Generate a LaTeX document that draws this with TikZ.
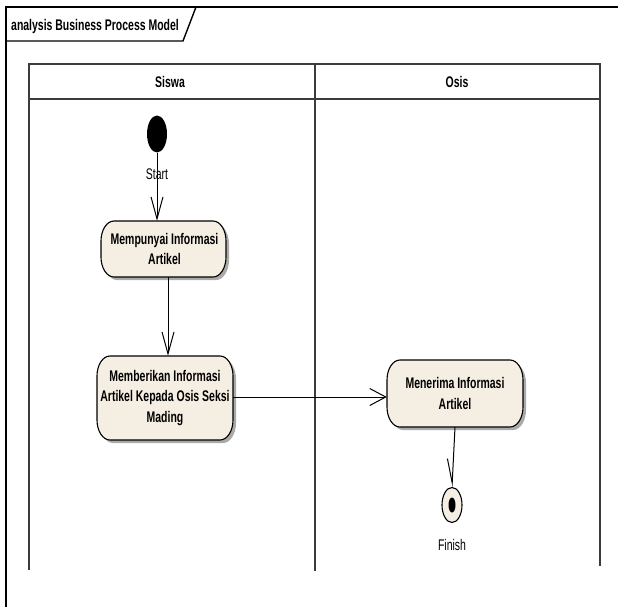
\documentclass[tikz,border=0pt]{standalone}
\usepackage{fontspec}
\setmainfont[FakeStretch=0.68]{Liberation Sans}
\usetikzlibrary{shapes.geometric,arrows.meta}
\definecolor{cream}{RGB}{245,238,226}
\definecolor{shade}{RGB}{170,170,170}
\definecolor{laneline}{RGB}{60,60,60}
\tikzset{
  % rounded activity outline with elliptic ends: centre x, centre y, width, height
  actpath/.style n args={4}{insert path={
    ({#1-#3/2+13},{#2-#4/2}) -- ({#1+#3/2-13},{#2-#4/2})
    arc[start angle=90,end angle=0,x radius=13pt,y radius=20pt]
    -- ({#1+#3/2},{#2+#4/2-20})
    arc[start angle=0,end angle=-90,x radius=13pt,y radius=20pt]
    -- ({#1-#3/2+13},{#2+#4/2})
    arc[start angle=270,end angle=180,x radius=13pt,y radius=20pt]
    -- ({#1-#3/2},{#2-#4/2+20})
    arc[start angle=180,end angle=90,x radius=13pt,y radius=20pt]
    -- cycle}},
  actshadow/.style={fill=shade},
  actbody/.style={fill=cream,draw=black,line width=1.1pt},
  acttext/.style={inner sep=0pt,align=center,
    font=\fontsize{15.4}{20.5}\selectfont\bfseries},
  lane/.style={draw=laneline,line width=1.5pt},
  frameline/.style={draw=black,line width=1.4pt},
  labeltext/.style={inner sep=0pt,font=\fontsize{15.4}{18}\selectfont},
  headtext/.style={inner sep=0pt,font=\fontsize{15.4}{18}\selectfont\bfseries},
  flow/.style={draw=black,line width=1pt},
  vtip/.style={-{Straight Barb[length=22pt,width=12pt,line width=1pt]}},
  htip/.style={-{Straight Barb[length=16pt,width=17pt,line width=1pt]}},
}
\begin{document}
\begin{tikzpicture}[x=1pt,y=-1pt]
\useasboundingbox[fill=white] (0,0) rectangle (618,607);

% diagram frame with its name tab
\draw[frameline] (618,7) -- (6,7) -- (6,607);
\draw[frameline] (6,41) -- (183,41) -- (196,7);
\node[headtext,anchor=base west] (title) at (11,30.5) {analysis Business Process Model};

% swimlanes
\draw[lane] (29,570) -- (29,64) -- (600,64) -- (600,566);
\draw[lane] (29,99) -- (600,99);
\draw[lane] (315,64) -- (315,571);
\node[headtext] (siswa) at (170,82) {Siswa};
\node[headtext] (osis) at (457,82) {Osis};

% activities
\fill[actshadow,shift={(3,3)},actpath={163.5}{249}{125}{56}];
\path[actbody,actpath={163.5}{249}{125}{56}];
\node[acttext,minimum width=125pt,minimum height=56pt] (b1) at (164.5,249)
  {Mempunyai Informasi\\Artikel};

\fill[actshadow,shift={(3,3)},actpath={165}{398}{136}{84}];
\path[actbody,actpath={165}{398}{136}{84}];
\node[acttext,minimum width=136pt,minimum height=84pt] (b2) at (165,398)
  {Memberikan Informasi\\Artikel Kepada Osis Seksi\\Mading};

\fill[actshadow,shift={(3,3)},actpath={455}{393.5}{136}{67}];
\path[actbody,actpath={455}{393.5}{136}{67}];
\node[acttext,minimum width=136pt,minimum height=67pt] (b3) at (455,393.5)
  {Menerima Informasi\\Artikel};

% initial and final nodes
\node[ellipse,fill=black,minimum width=20pt,minimum height=37pt,inner sep=0pt] (start) at (157,134) {};
\node[labeltext,anchor=base] (startlabel) at (157,179) {Start};

\node[ellipse,draw=black,fill=cream,line width=1.1pt,minimum width=20pt,minimum height=35pt,inner sep=0pt] (finish) at (452,505) {};
\node[ellipse,fill=black,minimum width=7pt,minimum height=15pt,inner sep=0pt] (finishdot) at (finish.center) {};
\node[labeltext,anchor=base] (finishlabel) at (452,550) {Finish};

% control flows
\draw[flow,vtip] (start.south) -- (start.south |- b1.north);
\draw[flow,vtip] ([xshift=3.5pt]b1.south) -- ([xshift=3.5pt]b1.south |- b2.north);
\draw[flow,htip] (b2.east |- 0,397) -- (b3.west |- 0,397);
\draw[flow,-{Straight Barb[right,length=24pt,width=12pt,line width=1pt]}] (b3.south) -- (finish.north);
\end{tikzpicture}
\end{document}
